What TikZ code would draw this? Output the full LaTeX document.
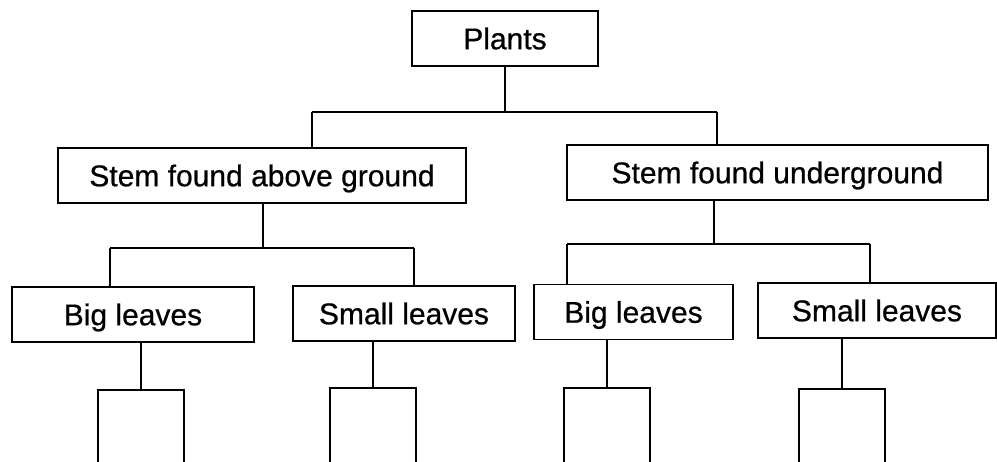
\documentclass[tikz,border=0pt]{standalone}
\usepackage{fontspec}
\setmainfont{Liberation Sans}
\newfontfamily\boxfont{Liberation Sans}[FakeBold=0.6]
\usetikzlibrary{calc}

\begin{document}
\begin{tikzpicture}[x=1pt, y=-1pt, line width=1.6pt,
  box/.style={draw, inner sep=0pt, minimum height=55pt, text height=21.5pt, text depth=0pt,
    font=\fontsize{30}{34}\boxfont\selectfont},
  blank/.style={draw, inner sep=0pt, minimum width=86pt, minimum height=110pt, anchor=north}]
  \clip (0,0) rectangle (997,462);
  % top of the tree
  \node[box, minimum width=186pt] (plants) at (505,38.5) {Plants};
  \node[box, minimum width=408pt] (above) at (262,175.5) {Stem found above ground};
  \node[box, minimum width=421pt] (under) at (777.5,172.5) {Stem found underground};
  \coordinate (barL) at (312,112);
  \coordinate (barR) at (717,112);
  \draw (plants.south) -- (plants.south |- barL);
  \draw (barL) -- (barR);
  \draw (barL) -- (barL |- above.north);
  \draw (barR) -- (barR |- under.north);
  % leaves, left half
  \node[box, minimum width=242pt] (bigA) at (133,314.5) {Big leaves};
  \node[box, minimum width=222pt] (smallA) at (404,313.5) {Small leaves};
  \coordinate (barAL) at (110,248);
  \coordinate (barAR) at (414,248);
  \draw (above.south -| 263,0) -- (263,248);
  \draw (barAL) -- (barAR);
  \draw (barAL) -- (barAL |- bigA.north);
  \draw (barAR) -- (barAR |- smallA.north);
  % leaves, right half
  \node[box, minimum width=199pt] (bigB) at (633.5,312) {Big leaves};
  \node[box, minimum width=238pt] (smallB) at (877,310.5) {Small leaves};
  \coordinate (barBL) at (567,244);
  \coordinate (barBR) at (870,244);
  \draw (under.south -| 714,0) -- (714,244);
  \draw (barBL) -- (barBR);
  \draw (barBL) -- (barBL |- bigB.north);
  \draw (barBR) -- (barBR |- smallB.north);
  % empty answer boxes, cut off by the page edge
  \node[blank] (ansA) at (141,389) {};
  \node[blank] (ansB) at (373,387) {};
  \node[blank] (ansC) at (607,387) {};
  \node[blank] (ansD) at (842,388) {};
  \draw (ansA.north) -- (ansA.north |- bigA.south);
  \draw (ansB.north) -- (ansB.north |- smallA.south);
  \draw (ansC.north) -- (ansC.north |- bigB.south);
  \draw (ansD.north) -- (ansD.north |- smallB.south);
\end{tikzpicture}
\end{document}
